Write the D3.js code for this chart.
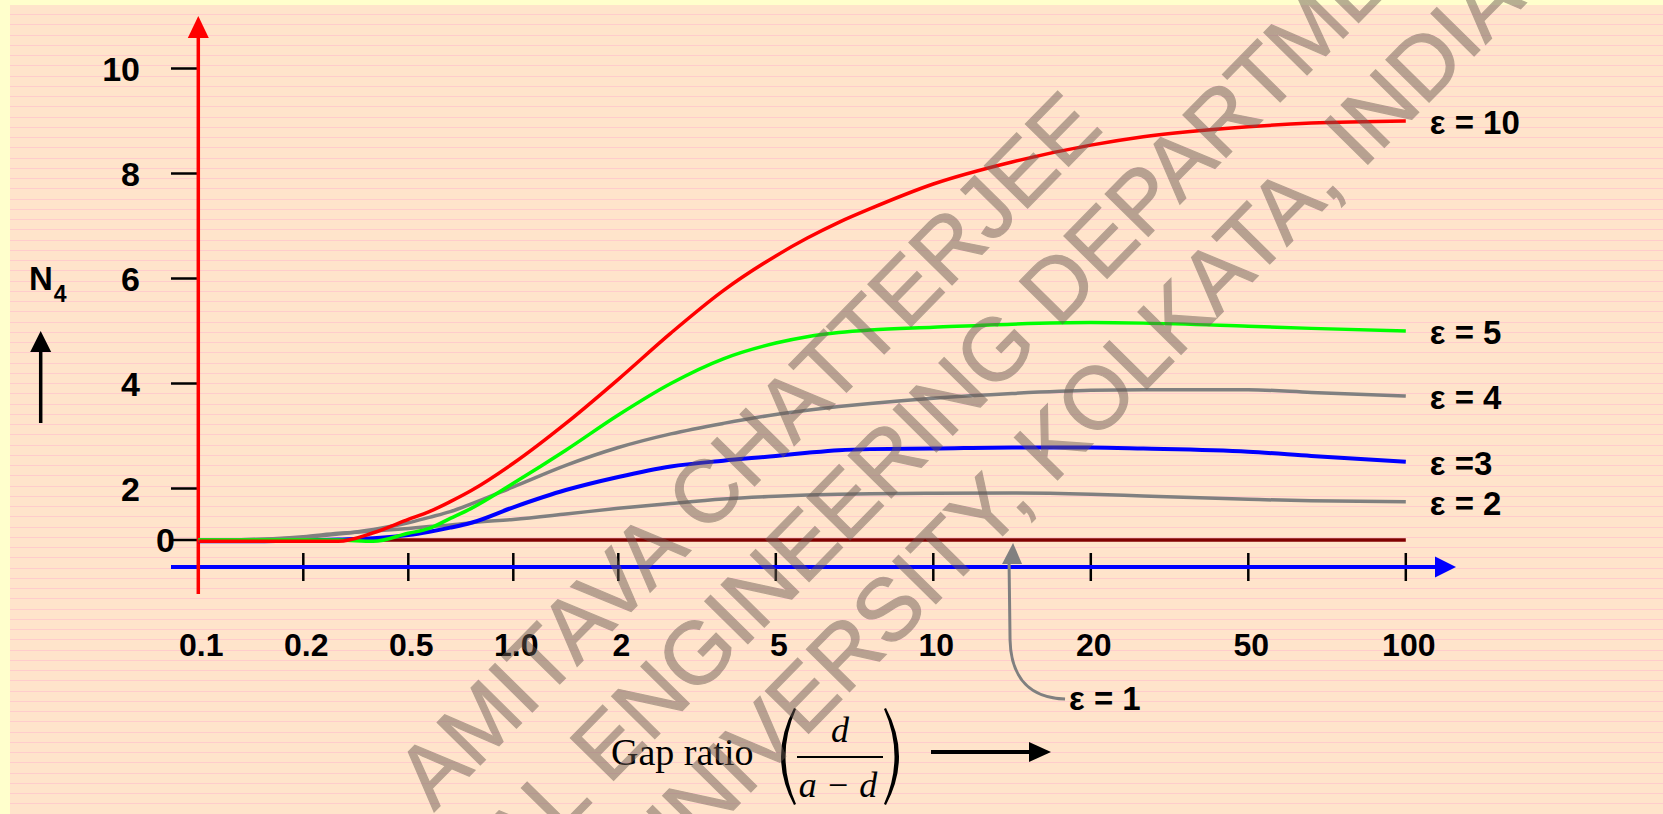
<!DOCTYPE html>
<html>
<head>
<meta charset="utf-8">
<script src="https://cdn.jsdelivr.net/npm/d3@7"></script>
<style>
  html, body { margin: 0; padding: 0; background: #ffffcc; overflow: hidden; }
  svg { display: block; font-family: "Liberation Sans", Arial, sans-serif; }
</style>
</head>
<body>
<svg id="chart" width="1663" height="814"></svg>
<script>

// gap ratio d/(a-d) sample points
const gapRatio = [0.1, 0.15, 0.2, 0.3, 0.4, 0.5, 0.6, 0.7, 0.8, 1, 1.5, 2, 3, 4, 5, 6, 7, 8, 10, 15, 20, 30, 50, 70, 100]

// N4, one array per permittivity
const n4Eps10 = [-0.05, -0.05, -0.05, -0.05, 0.28, 0.80, 1.10, 1.49, 1.92, 2.48, 3.24, 4.08, 4.96, 5.77, 6.43, 6.77, 7.07, 7.33, 7.80, 8.22, 8.54, 8.70, 8.89, 8.96, 9.00]
const n4Eps5 = [0, 0, 0, 0, -0.05, 0.26, 0.45, 0.84, 1.23, 2.10, 2.73, 3.40, 4.00, 4.47, 4.77, 4.89, 4.97, 5.02, 5.07, 5.13, 5.16, 5.15, 5.09, 5.05, 5.00]
const n4Eps4 = [0, 0.02, 0.10, 0.23, 0.41, 0.67, 0.88, 1.10, 1.40, 2.03, 2.44, 2.78, 3.04, 3.24, 3.41, 3.49, 3.56, 3.62, 3.72, 3.81, 3.87, 3.88, 3.88, 3.83, 3.76]
const n4Eps3 = [-0.05, -0.05, -0.02, 0.02, 0.07, 0.19, 0.32, 0.48, 0.67, 1.27, 1.94, 2.22, 2.42, 2.53, 2.62, 2.68, 2.73, 2.75, 2.76, 2.78, 2.78, 2.76, 2.70, 2.62, 2.51]
const n4Eps2 = [0, 0.02, 0.13, 0.26, 0.35, 0.45, 0.52, 0.58, 0.67, 0.80, 1.01, 1.23, 1.42, 1.59, 1.70, 1.75, 1.78, 1.80, 1.82, 1.83, 1.78, 1.71, 1.58, 1.52, 1.49]
const n4Eps1 = [0, 0, 0, 0, 0, 0, 0, 0, 0, 0, 0, 0, 0, 0, 0, 0, 0, 0, 0, 0, 0, 0, 0, 0, 0]

const seriesNames = ["ε = 2", "ε =3", "ε = 4", "ε = 5", "ε = 10"]

const xTicks = [0.1, 0.2, 0.5, 1, 2, 5, 10, 20, 50, 100]
const xTickLabels = ["0.1", "0.2", "0.5", "1.0", "2", "5", "10", "20", "50", "100"]
const yTicks = [0, 2, 4, 6, 8, 10]

const eps1Label = "ε = 1"
const eps1Point = [15, 0]

const watermark = ["AMITAVA CHATTERJEE", "ELECTRICAL ENGINEERING DEPARTMENT", "JADAVPUR UNIVERSITY, KOLKATA, INDIA"]

const svg = d3.select("#chart")

// page background, ruled paper
svg.append("rect")
.attr("width", 1663)
.attr("height", 814)
.attr("fill", "#ffffcc")

svg.append("rect")
.attr("x", 10)
.attr("y", 5)
.attr("width", 1653)
.attr("height", 809)
.attr("fill", "#ffe4cb")

svg.append("g")
.selectAll("line")
.data(d3.range(14, 814, 10.25))
.join("line")
.attr("x1", 10)
.attr("x2", 1663)
.attr("y1", (d) => Math.round(d) + 0.5)
.attr("y2", (d) => Math.round(d) + 0.5)
.attr("stroke", "#ffcccc")
.attr("stroke-width", 1)

// axes: even steps up to 2, then one and a half steps per tick
const x0 = 198.3
const xStep = 105
const x = d3.scaleLinear()
.domain(xTicks)
.range(xTicks.map((v, i) => x0 + xStep * (i <= 4 ? i : 4 + (i - 4) * 1.5)))

const y = d3.scaleLinear()
.domain([0, 2, 10])
.range([540, 488.5, 68.5])

const axisY = 567

// x ticks
svg.append("g")
.selectAll("line")
.data(xTicks)
.join("line")
.attr("x1", (d) => x(d))
.attr("x2", (d) => x(d))
.attr("y1", 553)
.attr("y2", 581)
.attr("stroke", "#000")
.attr("stroke-width", 2.5)

svg.append("line")
.attr("x1", 171)
.attr("x2", 1437)
.attr("y1", axisY)
.attr("y2", axisY)
.attr("stroke", "#0000ff")
.attr("stroke-width", 4)

svg.append("path")
.attr("d", `M1435,${axisY - 10.5} L1456,${axisY} L1435,${axisY + 10.5} Z`)
.attr("fill", "#0000ff")

svg.append("g")
.selectAll("text")
.data(xTicks)
.join("text")
.attr("x", (d) => x(d) + 3)
.attr("y", 656)
.attr("text-anchor", "middle")
.attr("font-size", 32)
.attr("font-weight", "bold")
.text((d, i) => xTickLabels[i])

// y ticks
svg.append("g")
.selectAll("line")
.data(yTicks)
.join("line")
.attr("x1", 171)
.attr("x2", x0)
.attr("y1", (d) => y(d))
.attr("y2", (d) => y(d))
.attr("stroke", "#000")
.attr("stroke-width", 2.5)

svg.append("g")
.selectAll("text")
.data(yTicks)
.join("text")
.attr("x", (d) => d === 0 ? 175 : 140)
.attr("y", (d) => y(d) + 12)
.attr("text-anchor", "end")
.attr("font-size", 34)
.attr("font-weight", "bold")
.text((d) => d)

svg.append("line")
.attr("x1", x0)
.attr("x2", x0)
.attr("y1", 36)
.attr("y2", 594)
.attr("stroke", "#ff0000")
.attr("stroke-width", 3.5)

svg.append("path")
.attr("d", `M${x0 - 10.5},38 L${x0},16 L${x0 + 10.5},38 Z`)
.attr("fill", "#ff0000")

// N4 label with its arrow
const n4 = svg.append("text")
.attr("x", 29)
.attr("y", 290)
.attr("font-size", 33)
.attr("font-weight", "bold")
n4.append("tspan").text("N")
n4.append("tspan")
.attr("font-size", 23)
.attr("dy", 12)
.attr("dx", 1)
.text("4")

svg.append("line")
.attr("x1", 40.7)
.attr("x2", 40.7)
.attr("y1", 348)
.attr("y2", 423)
.attr("stroke", "#000")
.attr("stroke-width", 3.5)

svg.append("path")
.attr("d", "M30.2,352 L40.7,331 L51.2,352 Z")
.attr("fill", "#000")

// curves
const line = d3.line()
.x((d) => x(d[0]))
.y((d) => y(d[1]))
.curve(d3.curveMonotoneX)

const curves = [
  { values: n4Eps1, color: "#800000", width: 3.5 },
  { values: n4Eps2, color: "#808080", width: 3.5 },
  { values: n4Eps3, color: "#0000ff", width: 4 },
  { values: n4Eps4, color: "#808080", width: 3.5 },
  { values: n4Eps5, color: "#00ff00", width: 3.5 },
  { values: n4Eps10, color: "#ff0000", width: 3.5 }
]

for (const c of curves) {
  svg.append("path")
  .attr("d", line(gapRatio.map((g, i) => [g, c.values[i]])))
  .attr("fill", "none")
  .attr("stroke", c.color)
  .attr("stroke-width", c.width)
}

// end labels
const last = gapRatio.length - 1
const labelled = [n4Eps2, n4Eps3, n4Eps4, n4Eps5, n4Eps10]

labelled.forEach((vals, i) => {
  svg.append("text")
  .attr("x", x(gapRatio[last]) + 24)
  .attr("y", y(vals[last]) + 13)
  .attr("font-size", 33)
  .attr("font-weight", "bold")
  .text(seriesNames[i])
})

// eps = 1 callout
const ax = x(eps1Point[0])
const ay = y(eps1Point[1])

svg.append("path")
.attr("d", `M${ax - 3},${ay + 22} L${ax - 2},${ay + 100} C${ax - 1},${ay + 140} ${ax + 20},${ay + 158} ${ax + 53},${ay + 159}`)
.attr("fill", "none")
.attr("stroke", "#808080")
.attr("stroke-width", 3)

svg.append("path")
.attr("d", `M${ax - 10},${ay + 24} L${ax + 1},${ay + 3} L${ax + 10},${ay + 24} Z`)
.attr("fill", "#808080")

svg.append("text")
.attr("x", ax + 57)
.attr("y", ay + 170)
.attr("font-size", 33)
.attr("font-weight", "bold")
.text(eps1Label)

// x axis title
const serif = "'Liberation Serif', 'Times New Roman', serif"

svg.append("text")
.attr("x", 611)
.attr("y", 765)
.style("font-family", serif)
.attr("font-size", 38)
.text("Gap ratio")

svg.append("path")
.attr("d", "M794,708 Q768,756.5 794,805 L796,804 Q775,756.5 796,709 Z")
.attr("fill", "#000")

svg.append("path")
.attr("d", "M886,708 Q912,756.5 886,805 L884,804 Q905,756.5 884,709 Z")
.attr("fill", "#000")

svg.append("text")
.attr("x", 840)
.attr("y", 742)
.attr("text-anchor", "middle")
.style("font-family", serif)
.attr("font-style", "italic")
.attr("font-size", 36)
.text("d")

svg.append("line")
.attr("x1", 797)
.attr("x2", 883)
.attr("y1", 757)
.attr("y2", 757)
.attr("stroke", "#000")
.attr("stroke-width", 2)

svg.append("text")
.attr("x", 838)
.attr("y", 797)
.attr("text-anchor", "middle")
.style("font-family", serif)
.attr("font-style", "italic")
.attr("font-size", 36)
.text("a − d")

svg.append("line")
.attr("x1", 931)
.attr("x2", 1032)
.attr("y1", 752)
.attr("y2", 752)
.attr("stroke", "#000")
.attr("stroke-width", 4)

svg.append("path")
.attr("d", "M1029,742 L1051,752 L1029,762 Z")
.attr("fill", "#000")

// watermark over everything
const wm = svg.append("g")
.attr("transform", "translate(845,545) rotate(-45.5)")
.attr("opacity", 0.48)

wm.selectAll("text")
.data(watermark)
.join("text")
.attr("x", 0)
.attr("y", (d, i) => (i - 1) * 106)
.attr("text-anchor", "middle")
.attr("font-size", 88)
.attr("fill", "#6a5a52")
.attr("stroke", "#6a5a52")
.attr("stroke-width", 1.2)
.text((d) => d)

</script>
</body>
</html>
